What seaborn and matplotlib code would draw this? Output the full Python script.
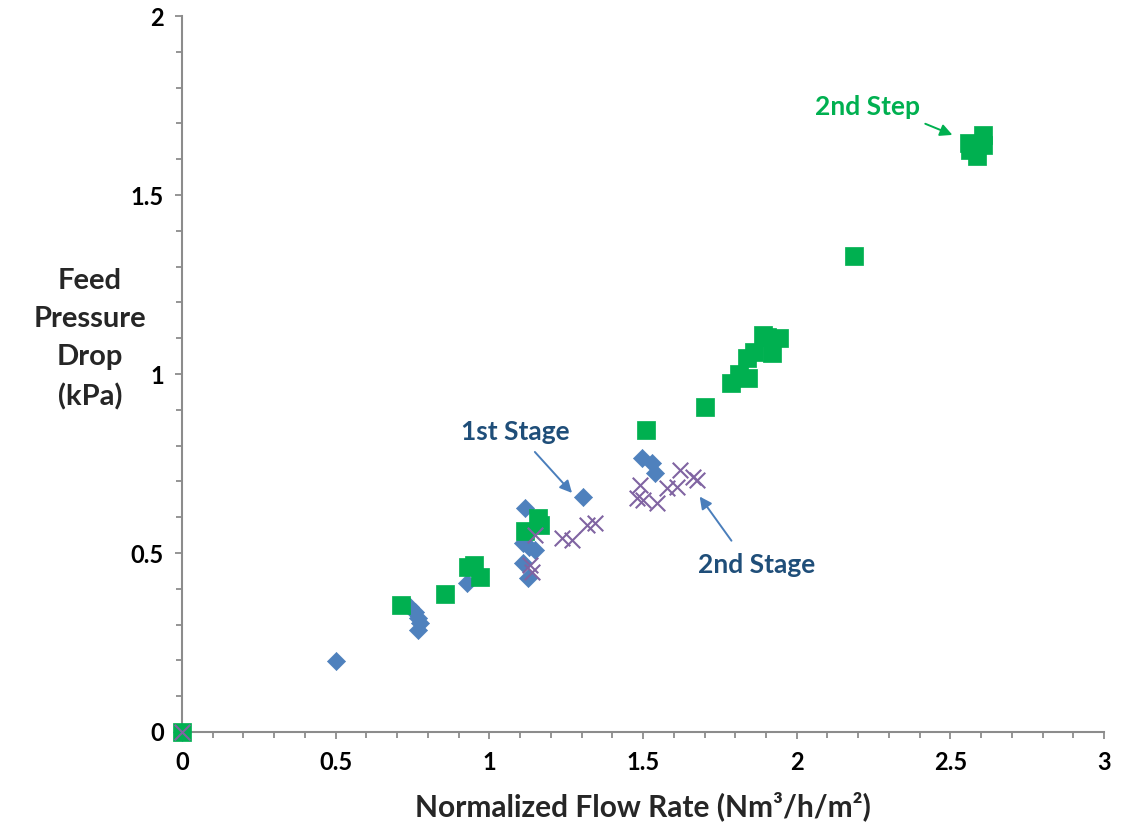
import matplotlib
matplotlib.use("Agg")
import matplotlib.pyplot as plt
from matplotlib.ticker import MultipleLocator, FuncFormatter
import seaborn as sns
import pandas as pd

# 1st Stage (blue diamonds)
stage1_x = [0, 0.501, 0.742, 0.758, 0.768, 0.775, 0.768, 0.927, 1.116, 1.11,
            1.13, 1.15, 1.11, 1.126, 1.305, 1.497, 1.529, 1.539]
stage1_y = [0, 0.198, 0.349, 0.335, 0.318, 0.304, 0.285, 0.415, 0.626, 0.528,
            0.517, 0.508, 0.472, 0.43, 0.656, 0.765, 0.751, 0.723]

# 2nd Step (green squares)
step2_x = [0, 0.713, 0.856, 0.93, 0.95, 0.97, 1.116, 1.158, 1.165, 1.51,
           1.702, 1.786, 1.813, 1.842, 1.838, 1.861, 1.89, 1.904, 1.92, 1.943,
           2.187, 2.56, 2.565, 2.587, 2.607, 2.607]
step2_y = [0, 0.355, 0.385, 0.46, 0.466, 0.432, 0.562, 0.598, 0.578, 0.844,
           0.908, 0.975, 1.0, 0.989, 1.045, 1.062, 1.109, 1.103, 1.059, 1.10,
           1.33, 1.645, 1.625, 1.61, 1.668, 1.64]

# 2nd Stage (purple crosses)
stage2_x = [0, 1.149, 1.132, 1.139, 1.237, 1.27, 1.318, 1.344, 1.48, 1.49,
            1.50, 1.546, 1.578, 1.61, 1.62, 1.663, 1.676]
stage2_y = [0, 0.55, 0.466, 0.447, 0.542, 0.536, 0.578, 0.584, 0.654, 0.69,
            0.648, 0.64, 0.682, 0.684, 0.732, 0.712, 0.704]

BLUE = "#4F81BD"
GREEN = "#00B050"
PURPLE = "#8064A2"
NAVY = "#1F4E79"
ARROW = "#4A7EBB"
AXIS = "#8C8C8C"

sns.set_theme(style="ticks")
plt.rcParams["font.family"] = ["Lato", "DejaVu Sans"]

fig = plt.figure(figsize=(11.32, 8.22), dpi=100)
ax = fig.add_axes([0.1608, 0.1095, 0.8145, 0.871])

df1 = pd.DataFrame({"x": stage1_x, "y": stage1_y})
df2 = pd.DataFrame({"x": step2_x, "y": step2_y})
df3 = pd.DataFrame({"x": stage2_x, "y": stage2_y})

sns.scatterplot(data=df1, x="x", y="y", marker="D", s=85, color=BLUE,
                edgecolor=BLUE, linewidth=0.5, ax=ax, zorder=3, clip_on=False)
sns.scatterplot(data=df2, x="x", y="y", marker="s", s=170, color=GREEN,
                edgecolor=GREEN, linewidth=0.5, ax=ax, zorder=3, clip_on=False)
sns.scatterplot(data=df3, x="x", y="y", marker="x", s=125, color=PURPLE,
                linewidth=1.5, ax=ax, zorder=4, clip_on=False)

ax.set_xlim(0, 3)
ax.set_ylim(0, 2)
ax.xaxis.set_major_locator(MultipleLocator(0.5))
ax.yaxis.set_major_locator(MultipleLocator(0.5))
ax.xaxis.set_minor_locator(MultipleLocator(0.1))
ax.yaxis.set_minor_locator(MultipleLocator(0.1))
fmt = FuncFormatter(lambda v, p: f"{v:g}")
ax.xaxis.set_major_formatter(fmt)
ax.yaxis.set_major_formatter(fmt)

for side in ["top", "right"]:
    ax.spines[side].set_visible(False)
for side in ["left", "bottom"]:
    ax.spines[side].set_color(AXIS)
    ax.spines[side].set_linewidth(1.5)
    ax.spines[side].set_zorder(2)

ax.tick_params(which="major", direction="out", length=5, width=1.3, color=AXIS,
               labelsize=17, labelcolor="black")
ax.tick_params(which="minor", direction="out", length=4, width=1.3, color=AXIS)
ax.tick_params(axis="x", which="major", pad=9)
ax.tick_params(axis="y", which="major", pad=8)
for lab in ax.get_xticklabels() + ax.get_yticklabels():
    lab.set_fontweight("bold")

ax.set_xlabel("Normalized Flow Rate (Nm³/h/m²)", fontsize=21.5,
              fontweight="bold", labelpad=12)
ax.set_ylabel("")
fig.text(0.0795, 0.5876, "Feed\nPressure\nDrop\n(kPa)", fontsize=21,
         fontweight="bold", ha="center", va="center", linespacing=1.58)

arrow_kw = dict(arrowstyle="-|>,head_length=0.6,head_width=0.3", lw=1.4)

ax.text(2.229, 1.746, "2nd Step", color=GREEN, fontsize=19, fontweight="bold",
        ha="center", va="center")
ax.annotate("", xy=(2.515, 1.665), xytext=(2.41, 1.702),
            arrowprops=dict(color=GREEN, **arrow_kw))

ax.text(1.084, 0.838, "1st Stage", color=NAVY, fontsize=19, fontweight="bold",
        ha="center", va="center")
ax.annotate("", xy=(1.275, 0.662), xytext=(1.142, 0.788),
            arrowprops=dict(color=ARROW, **arrow_kw))

ax.text(1.871, 0.466, "2nd Stage", color=NAVY, fontsize=19, fontweight="bold",
        ha="center", va="center")
ax.annotate("", xy=(1.679, 0.664), xytext=(1.793, 0.528),
            arrowprops=dict(color=ARROW, **arrow_kw))

fig.savefig("out.png", dpi=100)
